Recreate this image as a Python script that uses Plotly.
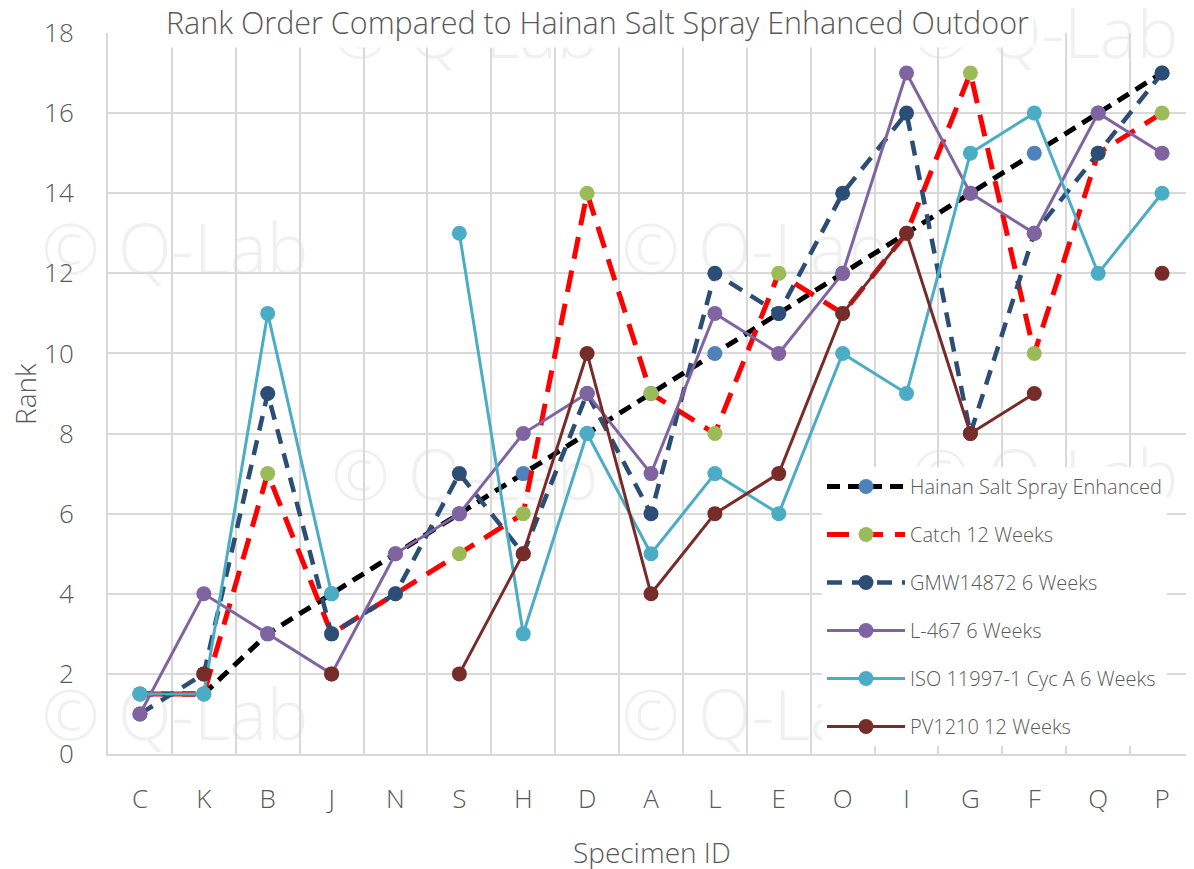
import plotly.graph_objects as go

categories = ["C", "K", "B", "J", "N", "S", "H", "D", "A", "L", "E", "O", "I", "G", "F", "Q", "P"]
hainan = [1.5, 1.5, 3, 4, 5, 6, 7, 8, 9, 10, 11, 12, 13, 14, 15, 16, 17]
catch12 = [1.5, 1.5, 7, 3, 4, 5, 6, 14, 9, 8, 12, 11, 13, 17, 10, 15, 16]
gmw = [1, 2, 9, 3, 4, 7, 5, 9, 6, 12, 11, 14, 16, 8, 13, 15, 17]
l467 = [1, 4, 3, 2, 5, 6, 8, 9, 7, 11, 10, 12, 17, 14, 13, 16, 15]
iso = [1.5, 1.5, 11, 4, None, 13, 3, 8, 5, 7, 6, 10, 9, 15, 16, 12, 14]
pv1210 = [None, 2, None, 2, None, 2, 5, 10, 4, 6, 7, 11, 13, 8, 9, None, 12]

series_names = ["Hainan Salt Spray Enhanced", "Catch 12 Weeks", "GMW14872 6 Weeks",
                 "L-467 6 Weeks", "ISO 11997-1 Cyc A 6 Weeks", "PV1210 12 Weeks"]

FONT = "Open Sans"
TXT = "#595959"
OFF = 8  # page body margin
W, H = 1194 - OFF, 869 - OFF
L, R, T, B = 100, 0, 25, 115
pw, ph = W - L - R, H - T - B

def px_x(px):
    return (px - OFF - L) / pw

def px_y(py):
    return (H - B - (py - OFF)) / ph

fig = go.Figure()

styles = [
    (hainan, dict(color="black", width=5, dash="13px,8px"), "#4F81BD"),
    (catch12, dict(color="#FF0000", width=5, dash="22px,12px"), "#9BBB59"),
    (gmw, dict(color="#2C4D75", width=4.5, dash="15px,10px"), "#2C4D75"),
    (l467, dict(color="#8064A2", width=3), "#8064A2"),
    (iso, dict(color="#4BACC6", width=3), "#4BACC6"),
    (pv1210, dict(color="#772C2A", width=3), "#772C2A"),
]

for i, (vals, line, mcol) in enumerate(styles):
    fig.add_trace(go.Scatter(
        x=categories, y=vals, name=series_names[i], mode="lines+markers",
        line=line, marker=dict(color=mcol, size=15),
        connectgaps=False, legendgroup=f"g{i}",
    ))

# watermark
wm = [(175, 252), (755, 252), (175, 718), (755, 718), (465, 478),
      (1045, 478), (465, 36), (1045, 36)]
for cx, cy in wm:
    fig.add_shape(type="rect", xref="paper", yref="paper",
                  x0=px_x(cx - 140), x1=px_x(cx + 140), y0=px_y(cy + 40), y1=px_y(cy - 40),
                  line=dict(width=0), fillcolor="rgba(0,0,0,0)", layer="below",
                  label=dict(text="© Q-Lab", font=dict(size=70, color="#F0F0F0", family=FONT, weight=300),
                             textposition="middle center"))

fig.add_annotation(
    text="Rank Order Compared to Hainan Salt Spray Enhanced Outdoor",
    xref="paper", yref="paper", x=px_x(597), y=px_y(22), xanchor="center", yanchor="middle",
    showarrow=False, bgcolor="white", borderpad=4,
    font=dict(size=30.5, color=TXT, family=FONT, weight=300),
)
fig.add_annotation(
    text="Specimen ID", xref="paper", yref="paper", x=px_x(652), y=px_y(852),
    xanchor="center", yanchor="middle", showarrow=False,
    font=dict(size=28, color=TXT, family=FONT, weight=300),
)
fig.add_annotation(
    text="Rank", xref="paper", yref="paper", x=px_x(25), y=px_y(394),
    xanchor="center", yanchor="middle", showarrow=False, textangle=-90,
    font=dict(size=28, color=TXT, family=FONT, weight=300),
)

fig.update_layout(
    width=W, height=H,
    margin=dict(l=L, r=R, t=T, b=B, autoexpand=False),
    plot_bgcolor="white", paper_bgcolor="white",
    font=dict(family=FONT, color=TXT, weight=300),
    legend=dict(
        x=px_x(822), y=px_y(467), xanchor="left", yanchor="top",
        bgcolor="white", font=dict(size=20, color=TXT, family=FONT, weight=300),
        tracegroupgap=19, itemwidth=78,
    ),
    xaxis=dict(
        type="category", categoryorder="array", categoryarray=categories,
        tickson="boundaries", showgrid=True, gridcolor="#D9D9D9", gridwidth=2,
        showline=True, linecolor="#D9D9D9", linewidth=2, ticks="", automargin=False,
        tickfont=dict(size=26, color=TXT), ticklabelstandoff=21,
        range=[-0.5, 16.5], zeroline=False,
    ),
    yaxis=dict(
        range=[0, 18], dtick=2, showgrid=True, gridcolor="#D9D9D9", gridwidth=2,
        showline=True, linecolor="#D9D9D9", linewidth=2, ticks="", zeroline=False,
        automargin=False,
        tickfont=dict(size=26, color=TXT), ticklabelstandoff=27,
    ),
)

fig.write_html("out.html")
